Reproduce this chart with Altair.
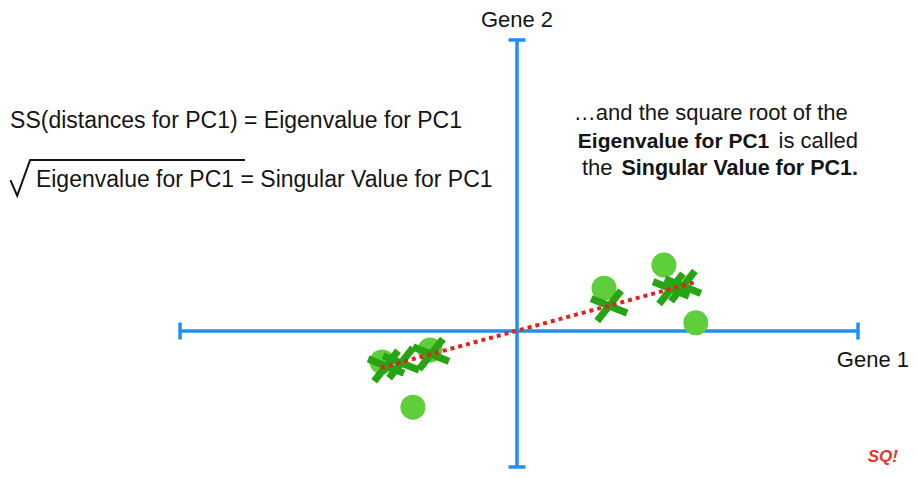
import altair as alt
import pandas as pd

# ---- data (units: Gene 1 / Gene 2 expression, origin at axis crossing) ----
gene1 = [-3.97, -2.56, -3.06, 2.56, 4.32, 5.26]
gene2 = [-0.91, -0.56, -2.24, 1.26, 1.94, 0.24]

# points projected onto PC1
proj_gene1 = [-3.85, -3.41, -2.53, 2.71, 4.53, 4.88]
proj_gene2 = [-1.03, -0.94, -0.68, 0.74, 1.24, 1.32]

# PC1 line ends
pc1_gene1 = [-4.0, 5.3]
pc1_gene2 = [-1.08, 1.45]

# axis extents
axis_x_range = [-9.91, 10.03]
axis_y_range = [-4.0, 8.56]

X_DOMAIN = [-14.971, 11.559]
Y_DOMAIN = [-4.088, 9.5]

BLUE = "#1f8ff5"
LIGHT_GREEN = "#5fce3b"
DARK_GREEN = "#27a414"
RED = "#e0251c"
INK = "#151515"
FONT = "Liberation Sans"

xs = alt.Scale(domain=X_DOMAIN, nice=False, zero=False)
ys = alt.Scale(domain=Y_DOMAIN, nice=False, zero=False)


def X(f):
    return alt.X(f, type="quantitative", scale=xs, axis=None)


def Y(f):
    return alt.Y(f, type="quantitative", scale=ys, axis=None)


# axes lines
axes_df = pd.DataFrame({
    "x": [axis_x_range[0], 0.0],
    "x2": [axis_x_range[1], 0.0],
    "y": [0.0, axis_y_range[0]],
    "y2": [0.0, axis_y_range[1]],
})
axes = alt.Chart(axes_df).mark_rule(color=BLUE, strokeWidth=3.5).encode(
    x=X("x"), x2="x2", y=Y("y"), y2="y2")

cap_half = 0.25
caps_df = pd.DataFrame({
    "x": [axis_x_range[0], axis_x_range[1], -cap_half, -cap_half],
    "x2": [axis_x_range[0], axis_x_range[1], cap_half, cap_half],
    "y": [-cap_half, -cap_half, axis_y_range[0], axis_y_range[1]],
    "y2": [cap_half, cap_half, axis_y_range[0], axis_y_range[1]],
})
caps = alt.Chart(caps_df).mark_rule(color=BLUE, strokeWidth=3.5).encode(
    x=X("x"), x2="x2", y=Y("y"), y2="y2")

pts = alt.Chart(pd.DataFrame({"g1": gene1, "g2": gene2})).mark_circle(
    size=625, color=LIGHT_GREEN, opacity=1).encode(x=X("g1"), y=Y("g2"))

X_PATH = ("M-1.14,-0.563L0.86,0.937L1.14,0.563L-0.86,-0.937Z"
          "M-0.86,0.937L1.14,-0.563L0.86,-0.937L-1.14,0.563Z")
crosses = alt.Chart(pd.DataFrame({"g1": proj_gene1, "g2": proj_gene2})).mark_point(
    shape=X_PATH, filled=True, size=960, angle=345, color=DARK_GREEN,
    opacity=1, strokeWidth=0).encode(x=X("g1"), y=Y("g2"))

pc1 = alt.Chart(pd.DataFrame({"g1": pc1_gene1, "g2": pc1_gene2})).mark_line(
    color=RED, strokeWidth=4, strokeDash=[4, 4], strokeCap="butt").encode(
    x=X("g1"), y=Y("g2"))

# ---- text annotations ----
def txt(df, **kw):
    base = dict(font=FONT, fontSize=22, color=INK, baseline="alphabetic")
    base.update(kw)
    return alt.Chart(df).mark_text(**base).encode(x=X("x"), y=Y("y"), text="t:N")

gene2_label = txt(pd.DataFrame({"x": [0.0], "y": [8.94], "t": ["Gene 2"]}),
                  align="center")
gene1_label = txt(pd.DataFrame({"x": [11.53], "y": [-1.06], "t": ["Gene 1"]}),
                  align="right")

left_lines = txt(pd.DataFrame({
    "x": [-14.91, -14.15],
    "y": [5.97, 4.24],
    "t": ["SS(distances for PC1) = Eigenvalue for PC1",
          "Eigenvalue for PC1 = Singular Value for PC1"]}), align="left", fontSize=23)

radical_df = pd.DataFrame({
    "x": [-14.90, -14.70, -14.32, -8.0],
    "y": [4.44, 3.98, 5.03, 5.03],
    "o": [0, 1, 2, 3]})
radical = alt.Chart(radical_df).mark_line(color=INK, strokeWidth=2).encode(
    x=X("x"), y=Y("y"), order="o:Q")

right_plain_c = txt(pd.DataFrame({"x": [5.7], "y": [6.21],
                                  "t": ["\u2026and the square root of the"]}), align="center")
right_bold_l = txt(pd.DataFrame({"x": [1.79], "y": [5.38],
                                 "t": ["Eigenvalue for PC1"]}), align="left",
                   fontWeight="bold", fontSize=21)
right_plain_r = txt(pd.DataFrame({"x": [10.03], "y": [5.38],
                                  "t": ["is called"]}), align="right")
right_plain_l = txt(pd.DataFrame({"x": [1.91], "y": [4.59],
                                  "t": ["the"]}), align="left")
right_bold_r = txt(pd.DataFrame({"x": [10.03], "y": [4.59],
                                 "t": ["Singular Value for PC1."]}), align="right",
                   fontWeight="bold", fontSize=21.5)

logo = txt(pd.DataFrame({"x": [10.76], "y": [-3.85], "t": ["SQ!"]}),
           align="center", fontSize=17, fontWeight="bold", fontStyle="italic",
           color="#e8352a")

chart = alt.layer(
    axes, caps, pts, crosses, pc1, gene2_label, gene1_label, left_lines, radical,
    right_plain_c, right_bold_l, right_plain_r, right_plain_l, right_bold_r, logo
).properties(
    width=902, height=462, autosize=alt.AutoSizeParams(type="none"), padding=0,
    background="white"
).configure_view(stroke=None)

chart.save("out.html", embed_options={"renderer": "svg", "actions": False})
